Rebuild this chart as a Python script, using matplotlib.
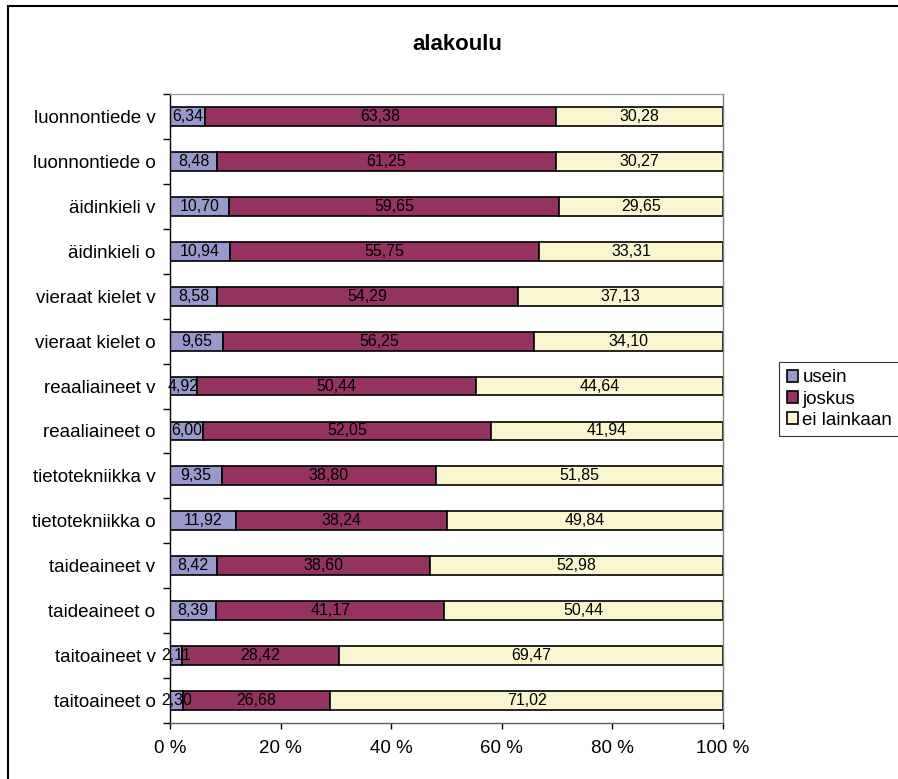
import matplotlib
matplotlib.use("Agg")
import matplotlib.pyplot as plt
from matplotlib.patches import Rectangle
import numpy as np

plt.rcParams['font.family'] = ['Liberation Sans', 'DejaVu Sans']

title = "alakoulu"
categories = ["luonnontiede v", "luonnontiede o", "äidinkieli v", "äidinkieli o",
              "vieraat kielet v", "vieraat kielet o", "reaaliaineet v", "reaaliaineet o",
              "tietotekniikka v", "tietotekniikka o", "taideaineet v", "taideaineet o",
              "taitoaineet v", "taitoaineet o"]
usein = [6.34, 8.48, 10.70, 10.94, 8.58, 9.65, 4.92, 6.00, 9.35, 11.92, 8.42, 8.39, 2.11, 2.30]
joskus = [63.38, 61.25, 59.65, 55.75, 54.29, 56.25, 50.44, 52.05, 38.80, 38.24, 38.60, 41.17, 28.42, 26.68]
ei_lainkaan = [30.28, 30.27, 29.65, 33.31, 37.13, 34.10, 44.64, 41.94, 51.85, 49.84, 52.98, 50.44, 69.47, 71.02]
series_names = ["usein", "joskus", "ei lainkaan"]
colors = ["#9999CC", "#943360", "#FAF6CF"]
xticks = [0, 20, 40, 60, 80, 100]
xticklabels = ["0 %", "20 %", "40 %", "60 %", "80 %", "100 %"]

W, H = 898, 779
fig = plt.figure(figsize=(W / 100, H / 100), dpi=100)
fig.patch.set_facecolor("white")

# outer chart border
fig.add_artist(Rectangle((8 / W, -0.2), 1.5, (H - 6) / H + 0.2, transform=fig.transFigure,
                         fill=False, edgecolor="black", linewidth=1.5))

left, right, top, bottom = 170, 723, 94, 723
ax = fig.add_axes([left / W, (H - bottom) / H, (right - left) / W, (bottom - top) / H])

n = len(categories)
y = np.arange(n)[::-1]
series = [usein, joskus, ei_lainkaan]
vals = np.array(series, dtype=float)
totals = vals.sum(axis=0)
pct = vals / totals * 100
cum = np.zeros(n)
for i, (name, col) in enumerate(zip(series_names, colors)):
    ax.barh(y, pct[i], left=cum, height=0.42, color=col, edgecolor="black",
            linewidth=1.2, label=name, zorder=2)
    for yy, l, w, v in zip(y, cum, pct[i], series[i]):
        ax.text(l + w / 2, yy, f"{v:.2f}".replace(".", ","), ha="center", va="center",
                fontsize=11.5, color="black", zorder=3)
    cum = cum + pct[i]

ax.set_xlim(0, 100)
ax.set_ylim(-0.5, n - 0.5)
ax.set_xticks(xticks)
ax.set_xticklabels(xticklabels, fontsize=13.5)
ax.set_yticks(y)
ax.set_yticklabels(categories, fontsize=13.5)
ax.set_yticks(np.arange(n + 1) - 0.5, minor=True)
ax.tick_params(axis="y", which="major", length=0, pad=10.5)
ax.tick_params(axis="y", which="minor", length=5, width=1, color="black", direction="out")
ax.tick_params(axis="x", which="major", length=4, width=1, color="black", direction="out", pad=8)

ax.spines["left"].set_color("black")
ax.spines["bottom"].set_color("#606060")
ax.spines["top"].set_color("#A0A0A0")
ax.spines["right"].set_color("#808080")
for s in ax.spines.values():
    s.set_linewidth(1.0)

fig.text(457 / W, 1 - 45 / H, title, ha="center", va="center", fontsize=16, fontweight="bold")

leg = fig.legend(loc="upper left", bbox_to_anchor=(779 / W, 1 - 362 / H), fontsize=13.5,
                 frameon=True, fancybox=False, edgecolor="black", handlelength=0.6,
                 handleheight=0.6, handletextpad=0.25, labelspacing=0.22, borderpad=0.4,
                 borderaxespad=0)
leg.get_frame().set_linewidth(0.8)

fig.savefig("out.png", dpi=100)
